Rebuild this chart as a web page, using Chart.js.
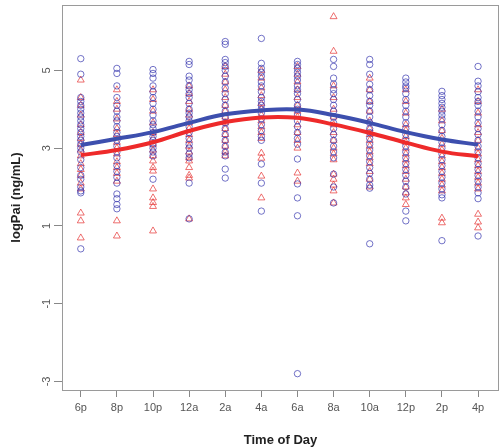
<!DOCTYPE html>
<html>
<head>
<meta charset="utf-8">
<script src="https://cdn.jsdelivr.net/npm/chart.js@4"></script>
<style>
  body { margin: 0; background: #fff; }
  #wrap { width: 504px; height: 448px; position: relative; }
</style>
</head>
<body>
<div id="wrap"><canvas id="paiChart"></canvas></div>
<script>
'use strict';

// Categories and tick labels
const timeLabels = ['6p', '8p', '10p', '12a', '2a', '4a', '6a', '8a', '10a', '12p', '2p', '4p'];
const yTicks = [5, 3, 1, -1, -3];

// Fitted curves (one value per time point)
const blueFit = [3.08, 3.24, 3.41, 3.65, 3.87, 3.97, 3.99, 3.85, 3.65, 3.41, 3.22, 3.09];
const redFit = [2.82, 2.95, 3.15, 3.44, 3.67, 3.79, 3.78, 3.61, 3.39, 3.14, 2.91, 2.79];

// Observations, blue circles, per time point
const blue6p = [5.3, 4.9, 4.3, 4.2, 4.1, 4.0, 3.9, 3.8, 3.7, 3.6, 3.5, 3.4, 3.3, 3.2, 3.1, 3.0, 2.9, 2.7, 2.5, 2.3, 2.2, 2.0, 1.9, 1.85, 0.41];
const blue8p = [5.05, 4.92, 4.6, 4.3, 4.1, 3.95, 3.8, 3.7, 3.55, 3.4, 3.3, 3.2, 3.05, 2.9, 2.75, 2.55, 2.4, 2.25, 2.1, 1.82, 1.7, 1.55, 1.44];
const blue10p = [5.02, 4.92, 4.8, 4.6, 4.45, 4.3, 4.15, 4.0, 3.85, 3.7, 3.6, 3.5, 3.4, 3.3, 3.2, 3.1, 3.0, 2.9, 2.8, 2.2];
const blue12a = [5.23, 5.15, 4.85, 4.75, 4.6, 4.5, 4.4, 4.3, 4.15, 4.0, 3.9, 3.8, 3.7, 3.55, 3.4, 3.25, 3.1, 3.0, 2.85, 2.75, 2.1, 1.18];
const blue2a = [5.74, 5.67, 5.28, 5.2, 5.1, 5.0, 4.85, 4.7, 4.55, 4.4, 4.25, 4.1, 3.95, 3.8, 3.65, 3.5, 3.35, 3.2, 3.05, 2.9, 2.8, 2.46, 2.23];
const blue4a = [5.82, 5.18, 5.05, 4.95, 4.85, 4.7, 4.6, 4.45, 4.3, 4.2, 4.1, 4.0, 3.9, 3.75, 3.6, 3.45, 3.3, 3.2, 2.59, 2.1, 1.38];
const blue6a = [5.23, 5.15, 5.05, 4.95, 4.85, 4.75, 4.6, 4.5, 4.4, 4.25, 4.1, 4.0, 3.85, 3.7, 3.55, 3.4, 3.25, 3.1, 2.72, 2.08, 1.72, 1.26, -2.8];
const blue8a = [5.28, 5.1, 4.8, 4.65, 4.5, 4.4, 4.25, 4.1, 3.95, 3.8, 3.65, 3.5, 3.35, 3.2, 3.05, 2.9, 2.75, 2.33, 2.0, 1.59];
const blue10a = [5.28, 5.15, 4.9, 4.64, 4.5, 4.35, 4.2, 4.1, 3.95, 3.8, 3.65, 3.5, 3.4, 3.25, 3.1, 2.95, 2.8, 2.65, 2.5, 2.35, 2.2, 2.05, 1.97, 0.54];
const blue12p = [4.8, 4.7, 4.6, 4.54, 4.4, 4.25, 4.1, 3.95, 3.8, 3.65, 3.5, 3.35, 3.2, 3.05, 2.9, 2.75, 2.6, 2.45, 2.3, 2.15, 2.0, 1.82, 1.38, 1.13];
const blue2p = [4.46, 4.35, 4.25, 4.15, 4.05, 3.95, 3.85, 3.75, 3.6, 3.45, 3.3, 3.15, 3.0, 2.85, 2.7, 2.55, 2.4, 2.25, 2.1, 1.95, 1.8, 1.72, 0.62];
const blue4p = [5.1, 4.72, 4.6, 4.45, 4.3, 4.2, 4.1, 3.95, 3.8, 3.65, 3.5, 3.35, 3.2, 3.05, 2.9, 2.75, 2.6, 2.45, 2.3, 2.15, 2.0, 1.85, 1.7, 0.74];

// Observations, red triangles, per time point
const red6p = [4.75, 4.3, 4.1, 3.85, 3.6, 3.4, 3.25, 3.1, 2.95, 2.8, 2.6, 2.45, 2.3, 2.1, 1.95, 1.33, 1.13, 0.69];
const red8p = [4.5, 4.2, 4.0, 3.75, 3.5, 3.35, 3.15, 3.0, 2.85, 2.65, 2.5, 2.35, 2.15, 1.13, 0.74];
const red10p = [4.5, 4.25, 3.95, 3.65, 3.4, 3.25, 3.1, 2.95, 2.8, 2.67, 2.5, 2.41, 1.95, 1.72, 1.6, 1.5, 0.87];
const red12a = [4.6, 4.4, 4.2, 4.0, 3.85, 3.65, 3.5, 3.35, 3.2, 3.05, 2.9, 2.75, 2.67, 2.5, 2.3, 2.23, 1.18];
const red2a = [5.1, 4.9, 4.7, 4.5, 4.3, 4.1, 3.95, 3.8, 3.65, 3.5, 3.35, 3.2, 3.05, 2.9, 2.8];
const red4a = [5.0, 4.8, 4.55, 4.35, 4.15, 4.0, 3.85, 3.7, 3.55, 3.4, 3.25, 2.87, 2.74, 2.28, 1.72];
const red6a = [5.1, 4.9, 4.7, 4.5, 4.3, 4.1, 3.95, 3.8, 3.6, 3.4, 3.2, 3.0, 2.36, 2.15];
const red8a = [6.38, 5.49, 4.6, 4.3, 4.0, 3.8, 3.6, 3.4, 3.2, 3.0, 2.85, 2.7, 2.33, 2.2, 2.05, 1.9, 1.59];
const red10a = [4.8, 4.5, 4.2, 3.95, 3.7, 3.5, 3.35, 3.2, 3.05, 2.9, 2.75, 2.6, 2.4, 2.2, 2.0];
const red12p = [4.5, 4.2, 3.9, 3.6, 3.45, 3.3, 3.15, 3.0, 2.85, 2.7, 2.55, 2.4, 2.2, 2.0, 1.85, 1.72, 1.55];
const red2p = [4.0, 3.7, 3.45, 3.25, 3.1, 2.95, 2.8, 2.65, 2.5, 2.35, 2.2, 2.05, 1.9, 1.2, 1.08];
const red4p = [4.5, 4.2, 3.9, 3.6, 3.4, 3.2, 3.0, 2.85, 2.7, 2.55, 2.4, 2.25, 2.1, 1.95, 1.3, 1.1, 0.95];

const blueObs = [blue6p, blue8p, blue10p, blue12a, blue2a, blue4a, blue6a, blue8a, blue10a, blue12p, blue2p, blue4p];
const redObs = [red6p, red8p, red10p, red12a, red2a, red4a, red6a, red8a, red10a, red12p, red2p, red4p];

const toPoints = cols => cols.flatMap((vals, i) => vals.map(v => ({ x: i, y: v })));

const frameAndLabels = {
    id: 'frameAndLabels',
    afterDraw(chart) {
        const { ctx, chartArea: a, scales } = chart;
        ctx.save();
        // box
        ctx.strokeStyle = '#9a9a9a';
        ctx.lineWidth = 1;
        ctx.strokeRect(a.left + 0.5, a.top + 0.5, a.right - a.left - 1, a.bottom - a.top);
        // rotated y tick labels
        ctx.fillStyle = '#555';
        ctx.font = '11px "Liberation Sans Narrow", "Liberation Sans", Arial';
        ctx.textAlign = 'center';
        ctx.textBaseline = 'middle';
        yTicks.forEach(v => {
            const y = scales.y.getPixelForValue(v);
            ctx.save();
            ctx.translate(47, y);
            ctx.rotate(-Math.PI / 2);
            ctx.fillText(String(v), 0, 0);
            ctx.restore();
        });
        // y title
        ctx.fillStyle = '#222';
        ctx.font = 'bold 13px "Liberation Sans", Arial';
        ctx.save();
        ctx.translate(16, (a.top + a.bottom) / 2);
        ctx.rotate(-Math.PI / 2);
        ctx.fillText('logPai (ng/mL)', 0, 0);
        ctx.restore();
        ctx.restore();
    }
};

document.addEventListener('DOMContentLoaded', () => {
    new Chart(document.getElementById('paiChart'), {
        type: 'scatter',
        data: {
            datasets: [
                { type: 'line', label: 'fit blue', data: blueFit.map((v, i) => ({ x: i, y: v })), borderColor: '#3d4fae', borderWidth: 4, pointRadius: 0, tension: 0.4, fill: false, order: 0 },
                { type: 'line', label: 'fit red', data: redFit.map((v, i) => ({ x: i, y: v })), borderColor: '#ee2a2a', borderWidth: 4, pointRadius: 0, tension: 0.4, fill: false, order: 0 },
                { label: 'blue', data: toPoints(blueObs), pointStyle: 'circle', pointRadius: 3.2, borderWidth: 1, borderColor: 'rgba(55,55,175,0.7)', backgroundColor: 'rgba(0,0,0,0)', order: 1 },
                { label: 'red', data: toPoints(redObs), pointStyle: 'triangle', pointRadius: 4, borderWidth: 1, borderColor: 'rgba(230,50,50,0.7)', backgroundColor: 'rgba(0,0,0,0)', order: 2 },
            ],
        },
        options: {
            responsive: true, maintainAspectRatio: false, animation: false,
            layout: { padding: { top: 4, right: 3, left: 0, bottom: 0 } },
            plugins: { legend: { display: false }, tooltip: { enabled: false } },
            scales: {
                x: {
                    type: 'linear', min: -0.52, max: 11.58,
                    afterBuildTicks: s => { s.ticks = timeLabels.map((_, i) => ({ value: i })); },
                    afterFit: s => { s.height = 58; },
                    grid: { drawOnChartArea: false, drawTicks: true, tickLength: 7, color: '#888' },
                    border: { display: false },
                    ticks: { color: '#555', font: { size: 11, family: '"Liberation Sans Narrow", "Liberation Sans", Arial' }, padding: 4, maxRotation: 0, autoSkip: false, callback: v => timeLabels[v] },
                    title: { display: true, text: 'Time of Day', color: '#222', font: { size: 13, weight: 'bold', family: '"Liberation Sans", Arial' }, padding: { top: 8, bottom: 0 } },
                },
                y: {
                    type: 'linear', min: -3.22, max: 6.68,
                    afterBuildTicks: s => { s.ticks = yTicks.map(v => ({ value: v })); },
                    afterFit: s => { s.width = 62; },
                    grid: { drawOnChartArea: false, drawTicks: true, tickLength: 8, color: '#888' },
                    border: { display: false },
                    ticks: { display: false },
                },
            },
        },
        plugins: [frameAndLabels],
    });
});
</script>
</body>
</html>
